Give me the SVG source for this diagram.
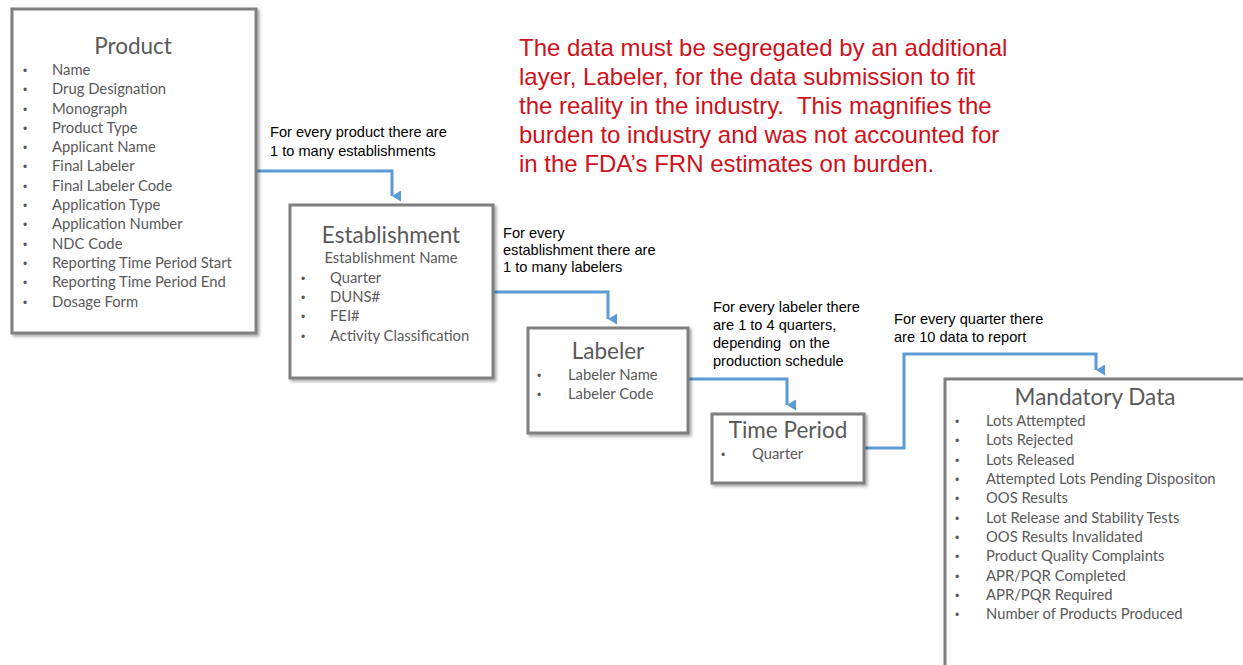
<svg xmlns="http://www.w3.org/2000/svg" width="1243" height="665" viewBox="0 0 1243 665">
  <defs>
    <filter id="sh" x="-10%" y="-10%" width="130%" height="130%">
      <feDropShadow dx="2" dy="2" stdDeviation="1.5" flood-color="#000" flood-opacity="0.35"/>
    </filter>
    <marker id="arr" markerWidth="11" markerHeight="10" refX="5.5" refY="9" orient="auto" markerUnits="userSpaceOnUse" viewBox="0 0 11 10">
      <path d="M0,0 L11,0 L5.5,9 Z" fill="#5b9bd5"/>
    </marker>
  </defs>
  <style>
    .box { fill: #ffffff; stroke: #7f7f7f; stroke-width: 3; filter: url(#sh); }
    .title { font-family: Lato, "Open Sans", sans-serif; font-size: 22.5px; fill: #595959; text-anchor: middle; }
    .sub { font-family: Lato, "Open Sans", sans-serif; font-size: 14.8px; fill: #595959; text-anchor: middle; }
    .item { font-family: Lato, "Open Sans", sans-serif; font-size: 14.8px; fill: #595959; white-space: pre; }
    .bul { font-family: "Liberation Sans", Arial, sans-serif; font-size: 12px; fill: #595959; }
    .note { font-family: "Liberation Sans", Arial, sans-serif; font-size: 14.6px; fill: #000000; white-space: pre; }
    .red { font-family: "Liberation Sans", Arial, sans-serif; font-size: 24px; fill: #d0101a; white-space: pre; }
    .conn { fill: none; stroke: #5b9bd5; stroke-width: 3; }
  </style>

  <g id="connectors">
    <path class="conn" d="M257,171 H392 V196" marker-end="url(#arr)"/>
    <path class="conn" d="M493,292 H608 V319" marker-end="url(#arr)"/>
    <path class="conn" d="M688,379 H787 V405" marker-end="url(#arr)"/>
    <path class="conn" d="M864,448 H904 V354 H1096 V370" marker-end="url(#arr)"/>
  </g>

  <g id="product">
    <rect class="box" x="12" y="9" width="244" height="324"/>
    <text class="title" x="133" y="54">Product</text>
    <g class="bul">
      <text x="23" y="75">•</text><text x="23" y="94">•</text><text x="23" y="114">•</text><text x="23" y="133">•</text><text x="23" y="152">•</text><text x="23" y="171">•</text><text x="23" y="191">•</text><text x="23" y="210">•</text><text x="23" y="229">•</text><text x="23" y="249">•</text><text x="23" y="268">•</text><text x="23" y="287">•</text><text x="23" y="307">•</text>
    </g>
    <g class="item">
      <text x="52" y="75">Name</text>
      <text x="52" y="94">Drug Designation</text>
      <text x="52" y="114">Monograph</text>
      <text x="52" y="133">Product Type</text>
      <text x="52" y="152">Applicant Name</text>
      <text x="52" y="171">Final Labeler</text>
      <text x="52" y="191">Final Labeler Code</text>
      <text x="52" y="210">Application Type</text>
      <text x="52" y="229">Application Number</text>
      <text x="52" y="249">NDC Code</text>
      <text x="52" y="268">Reporting Time Period Start</text>
      <text x="52" y="287">Reporting Time Period End</text>
      <text x="52" y="307">Dosage Form</text>
    </g>
  </g>

  <g id="establishment">
    <rect class="box" x="290" y="205" width="203" height="173"/>
    <text class="title" x="391" y="243">Establishment</text>
    <text class="sub" x="391" y="263">Establishment Name</text>
    <g class="bul">
      <text x="301" y="283">•</text><text x="301" y="302">•</text><text x="301" y="321">•</text><text x="301" y="341">•</text>
    </g>
    <g class="item">
      <text x="330" y="283">Quarter</text>
      <text x="330" y="302">DUNS#</text>
      <text x="330" y="321">FEI#</text>
      <text x="330" y="341">Activity Classification</text>
    </g>
  </g>

  <g id="labeler">
    <rect class="box" x="528" y="328" width="160" height="105"/>
    <text class="title" x="608" y="359">Labeler</text>
    <g class="bul">
      <text x="537" y="380">•</text><text x="537" y="399">•</text>
    </g>
    <g class="item">
      <text x="568" y="380">Labeler Name</text>
      <text x="568" y="399">Labeler Code</text>
    </g>
  </g>

  <g id="time-period">
    <rect class="box" x="712" y="414" width="152" height="69"/>
    <text class="title" x="788" y="438">Time Period</text>
    <text class="bul" x="721" y="459">•</text>
    <text class="item" x="752" y="459">Quarter</text>
  </g>

  <g id="mandatory-data">
    <rect class="box" x="945" y="379" width="310" height="300"/>
    <text class="title" x="1095" y="405">Mandatory Data</text>
    <g class="bul">
      <text x="955" y="426">•</text><text x="955" y="445">•</text><text x="955" y="465">•</text><text x="955" y="484">•</text><text x="955" y="503">•</text><text x="955" y="523">•</text><text x="955" y="542">•</text><text x="955" y="561">•</text><text x="955" y="581">•</text><text x="955" y="600">•</text><text x="955" y="619">•</text>
    </g>
    <g class="item">
      <text x="986" y="426">Lots Attempted</text>
      <text x="986" y="445">Lots Rejected</text>
      <text x="986" y="465">Lots Released</text>
      <text x="986" y="484">Attempted  Lots Pending Dispositon</text>
      <text x="986" y="503">OOS Results</text>
      <text x="986" y="523">Lot Release and Stability Tests</text>
      <text x="986" y="542">OOS Results Invalidated</text>
      <text x="986" y="561">Product Quality Complaints</text>
      <text x="986" y="581">APR/PQR Completed</text>
      <text x="986" y="600">APR/PQR Required</text>
      <text x="986" y="619">Number of Products Produced</text>
    </g>
  </g>

  <g id="notes">
    <text class="note" x="270" y="137">For every product there are</text>
    <text class="note" x="270" y="156">1 to many establishments</text>
    <text class="note" x="503" y="238">For every</text>
    <text class="note" x="503" y="255">establishment there are</text>
    <text class="note" x="503" y="272">1 to many labelers</text>
    <text class="note" x="713" y="312">For every labeler there</text>
    <text class="note" x="713" y="330">are 1 to 4 quarters,</text>
    <text class="note" x="713" y="348">depending  on the</text>
    <text class="note" x="713" y="366">production schedule</text>
    <text class="note" x="894" y="324">For every quarter there</text>
    <text class="note" x="894" y="342">are 10 data to report</text>
  </g>

  <g id="callout">
    <text class="red" x="519" y="56">The data must be segregated by an additional</text>
    <text class="red" x="519" y="85">layer, Labeler, for the data submission to fit</text>
    <text class="red" x="519" y="114">the reality in the industry.  This magnifies the</text>
    <text class="red" x="519" y="143">burden to industry and was not accounted for</text>
    <text class="red" x="519" y="172">in the FDA’s FRN estimates on burden.</text>
  </g>
</svg>
